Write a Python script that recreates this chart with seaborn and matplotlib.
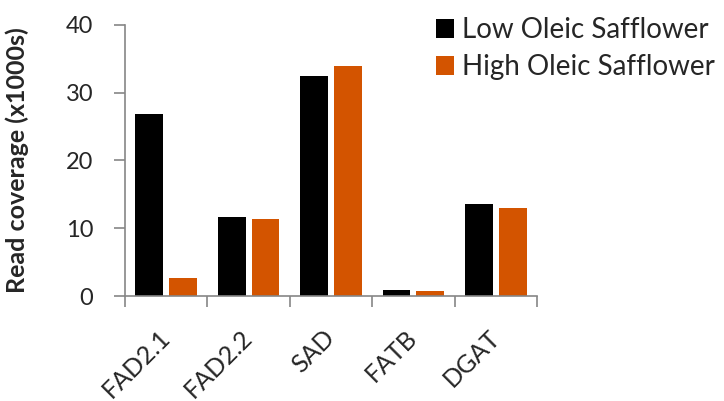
import numpy as np
import pandas as pd
import matplotlib
matplotlib.use("Agg")
import matplotlib.pyplot as plt
import seaborn as sns

# Data (thousands of reads)
genes = ["FAD2.1", "FAD2.2", "SAD", "FATB", "DGAT"]
low_oleic = [26.8, 11.7, 32.5, 0.95, 13.6]
high_oleic = [2.7, 11.3, 33.9, 0.75, 13.0]
series = ["Low Oleic Safflower", "High Oleic Safflower"]
y_ticks = [0, 10, 20, 30, 40]

df = pd.DataFrame({
    "gene": genes * 2,
    "coverage": low_oleic + high_oleic,
    "line": [series[0]] * len(genes) + [series[1]] * len(genes),
})

sns.set_style("white")
plt.rcParams["font.family"] = ["Lato", "DejaVu Sans"]

axis_grey = "#868686"
fig = plt.figure(figsize=(7.24, 4.01), dpi=100)
ax = fig.add_axes([0.1727, 0.2618, 0.569, 0.676])

sns.barplot(data=df, x="gene", y="coverage", hue="line", order=genes,
            hue_order=series, palette=["#000000", "#D35400"],
            width=0.82, gap=0.18, linewidth=0, saturation=1, ax=ax)

ax.set_xlim(-0.5, len(genes) - 0.5)
ax.set_ylim(0, 40)
ax.set_yticks(y_ticks)
ax.set_xlabel("")
ax.set_ylabel("Read coverage (x1000s)", fontsize=18, fontweight="bold")
ax.yaxis.set_label_coords(-0.232, 0.5)

sns.despine(ax=ax)
for s in ["left", "bottom"]:
    ax.spines[s].set_color(axis_grey)
    ax.spines[s].set_linewidth(1.2)

ax.tick_params(axis="y", direction="out", length=8, width=1.2, color=axis_grey,
               labelsize=17, pad=15, left=True)
# boundary ticks between categories
ax.set_xticks(np.arange(-0.5, len(genes)), minor=True)
ax.tick_params(axis="x", which="minor", direction="out", length=8, width=1.2,
               color=axis_grey, bottom=True)
ax.tick_params(axis="x", which="major", length=0, labelsize=18, pad=27)
for lab in ax.get_xticklabels():
    lab.set_rotation(45)
    lab.set_ha("right")
    lab.set_va("center")
    lab.set_rotation_mode("anchor")

handles, labels = ax.get_legend_handles_labels()
ax.legend(handles, labels, loc="upper left", bbox_to_anchor=(0.587, 0.985),
          bbox_transform=fig.transFigure, frameon=False, fontsize=20,
          handlelength=0.65, handleheight=0.65, handletextpad=0.3,
          labelspacing=0.4, borderaxespad=0)

plt.savefig("out.png", dpi=100)
